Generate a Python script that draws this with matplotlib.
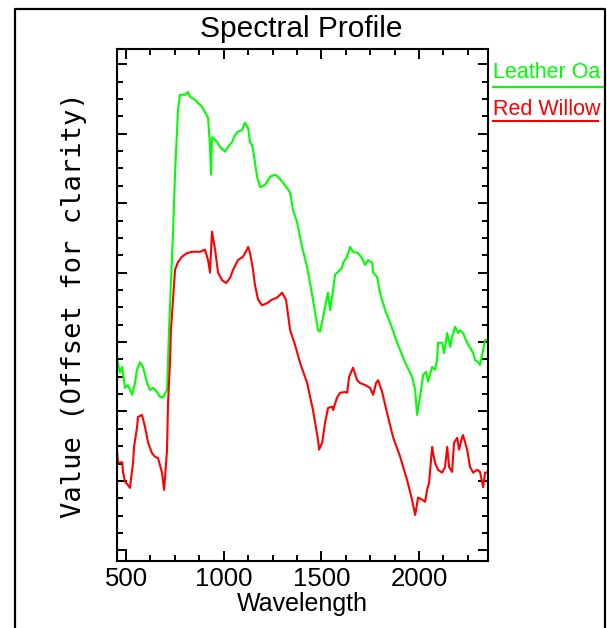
import numpy as np
import matplotlib
matplotlib.use('Agg')
import matplotlib.pyplot as plt
from matplotlib.ticker import MultipleLocator
from matplotlib.lines import Line2D

plt.rcParams['font.family'] = ['Liberation Sans', 'DejaVu Sans']

# spectra (value axis is offset, arbitrary units)
wl_oak = [455, 469, 480, 495, 510, 531, 546, 556, 572, 587, 608, 623, 638, 659, 674,
          689, 710, 715, 720, 741, 751, 761, 766, 776, 802, 817, 828, 853, 869, 889,
          904, 920, 930, 935, 940, 945, 966, 981, 1007, 1022, 1043, 1058, 1073, 1094, 1109,
          1125, 1135, 1145, 1150, 1171, 1186, 1212, 1222, 1237, 1263, 1278, 1299, 1324, 1340, 1355,
          1376, 1401, 1427, 1457, 1483, 1493, 1509, 1529, 1534, 1544, 1560, 1570, 1585, 1606, 1611,
          1632, 1647, 1662, 1688, 1708, 1724, 1739, 1760, 1765, 1785, 1800, 1826, 1852, 1888, 1928,
          1964, 1980, 1990, 2005, 2021, 2036, 2046, 2067, 2082, 2092, 2097, 2118, 2128, 2144, 2159,
          2169, 2184, 2200, 2210, 2225, 2246, 2261, 2277, 2287, 2302, 2312, 2328, 2338, 2348]
val_oak = [2.74, 2.56, 2.64, 2.34, 2.38, 2.24, 2.41, 2.60, 2.71, 2.64, 2.41, 2.31, 2.34, 2.28, 2.21,
           2.20, 2.31, 2.70, 3.17, 4.61, 5.44, 6.03, 6.34, 6.56, 6.56, 6.60, 6.53, 6.49, 6.44, 6.39,
           6.31, 6.23, 5.81, 5.41, 5.95, 5.94, 5.88, 5.81, 5.74, 5.81, 5.88, 5.98, 6.03, 6.05, 6.16,
           6.08, 5.87, 5.84, 5.77, 5.38, 5.23, 5.26, 5.31, 5.38, 5.41, 5.38, 5.31, 5.22, 5.15, 4.90,
           4.72, 4.37, 4.08, 3.61, 3.17, 3.15, 3.36, 3.65, 3.71, 3.46, 3.75, 3.97, 4.01, 4.07, 4.14,
           4.23, 4.37, 4.30, 4.28, 4.21, 4.11, 4.18, 4.14, 4.00, 3.94, 3.71, 3.46, 3.28, 2.99, 2.71,
           2.50, 2.31, 1.95, 2.21, 2.53, 2.57, 2.43, 2.64, 2.60, 2.74, 2.99, 2.99, 2.84, 3.13, 2.93,
           3.07, 3.22, 3.13, 3.17, 3.13, 2.99, 2.92, 2.84, 2.74, 2.71, 2.67, 2.89, 3.03, 3.03]

wl_willow = [455, 459, 480, 485, 495, 510, 520, 536, 541, 556, 561, 582, 597, 613, 633,
             648, 664, 684, 695, 710, 715, 725, 730, 751, 766, 787, 812, 838, 879, 904,
             920, 930, 940, 956, 971, 992, 1012, 1032, 1048, 1073, 1099, 1119, 1125, 1135, 1150,
             1160, 1176, 1196, 1222, 1247, 1273, 1299, 1319, 1340, 1365, 1391, 1427, 1457, 1483, 1488,
             1504, 1519, 1534, 1555, 1560, 1580, 1596, 1621, 1632, 1642, 1662, 1683, 1698, 1724, 1749,
             1765, 1780, 1790, 1811, 1836, 1867, 1903, 1939, 1964, 1980, 1995, 2016, 2031, 2041, 2051,
             2067, 2072, 2082, 2097, 2118, 2133, 2144, 2154, 2169, 2179, 2195, 2205, 2220, 2225, 2246,
             2261, 2277, 2297, 2312, 2328, 2338, 2348]
val_willow = [1.40, 1.26, 1.27, 1.12, 0.99, 0.94, 0.90, 1.26, 1.49, 1.76, 1.92, 1.95, 1.78, 1.55, 1.40,
              1.35, 1.33, 1.12, 0.87, 1.45, 2.12, 2.70, 3.17, 4.04, 4.15, 4.23, 4.28, 4.30, 4.30, 4.33,
              4.18, 4.00, 4.59, 4.33, 4.00, 3.89, 3.85, 3.92, 4.04, 4.18, 4.23, 4.33, 4.37, 4.28, 4.04,
              3.82, 3.61, 3.53, 3.56, 3.61, 3.64, 3.71, 3.61, 3.17, 2.96, 2.70, 2.41, 2.02, 1.59, 1.45,
              1.55, 1.84, 2.05, 2.07, 2.02, 2.20, 2.27, 2.28, 2.27, 2.50, 2.63, 2.45, 2.41, 2.38, 2.34,
              2.24, 2.41, 2.45, 2.28, 1.98, 1.63, 1.35, 1.01, 0.73, 0.51, 0.76, 0.73, 0.70, 0.87, 0.97,
              1.49, 1.40, 1.26, 1.16, 1.12, 1.20, 1.49, 1.20, 1.13, 1.55, 1.62, 1.45, 1.63, 1.66, 1.45,
              1.20, 1.12, 1.16, 1.13, 0.91, 1.12, 1.12]

names = ['Leather Oa', 'Red Willow']
colors = ['#00ff00', '#ff0000']

fig = plt.figure(figsize=(6.07, 6.28), dpi=100)
ax = fig.add_axes([0.1928, 0.1067, 0.6112, 0.8153])

ax.plot(wl_oak, val_oak, color=colors[0], lw=1.5)
ax.plot(wl_willow, val_willow, color=colors[1], lw=1.5)

ax.set_xlim(454, 2353)
ax.set_ylim(-0.153, 7.22)
ax.xaxis.set_major_locator(MultipleLocator(500))
ax.xaxis.set_minor_locator(MultipleLocator(125))
ax.yaxis.set_major_locator(MultipleLocator(1))
ax.yaxis.set_minor_locator(MultipleLocator(0.25))
ax.tick_params(which='both', direction='in', top=True, right=True, width=1.4, color='black')
ax.tick_params(which='major', length=7.5)
ax.tick_params(which='minor', length=4.5)
ax.tick_params(axis='x', labelsize=18.5, pad=4.5)
ax.tick_params(axis='y', labelleft=False)
for s in ax.spines.values():
    s.set_linewidth(1.5)

ax.set_xlabel('Wavelength', fontsize=18, labelpad=0.5)
fig.text(0.1214, 0.514, 'Value (Offset for clarity)', rotation=90, ha='center', va='center',
         fontsize=19.5, family='DejaVu Sans Mono')
fig.text(0.497, 0.941, 'Spectral Profile', ha='center', va='baseline', fontsize=21.5)

# legend at the right: text with underline
fig.text(0.812, 0.876, names[0], color=colors[0], fontsize=15.5, va='baseline')
fig.add_artist(Line2D([0.812, 0.997], [0.8615, 0.8615], color=colors[0], lw=1.5))
fig.text(0.812, 0.817, names[1], color=colors[1], fontsize=15.5, va='baseline')
fig.add_artist(Line2D([0.812, 0.985], [0.807, 0.807], color=colors[1], lw=1.5))

# outer frame
fig.add_artist(Line2D([0.0247, 0.0247, 0.9967, 0.9967], [0.0, 0.9857, 0.9857, 0.0],
                      color='black', lw=1.6))

fig.savefig('out.png', dpi=100)
